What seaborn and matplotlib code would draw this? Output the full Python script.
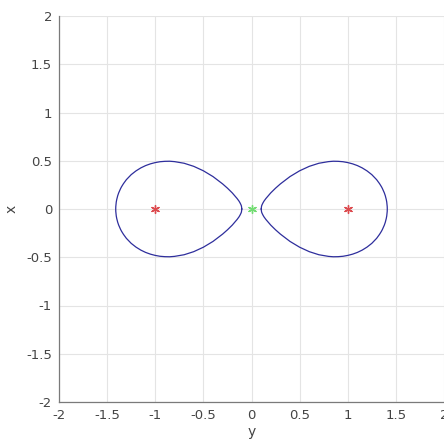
import matplotlib
matplotlib.use("Agg")
import matplotlib.pyplot as plt
import seaborn as sns
import numpy as np
import pandas as pd

# Upper half of the right-hand loop (horizontal "y", vertical "x")
loop_h = [0.100, 0.105, 0.110, 0.120, 0.130, 0.150, 0.200, 0.250, 0.300, 0.400,
          0.500, 0.600, 0.700, 0.800, 0.850, 0.900, 0.950, 1.000, 1.050, 1.100,
          1.150, 1.200, 1.250, 1.300, 1.330, 1.350, 1.360, 1.380, 1.390, 1.400,
          1.405, 1.410, 1.4107]
loop_v = [0.000, 0.032, 0.045, 0.065, 0.082, 0.109, 0.167, 0.216, 0.260, 0.336,
          0.396, 0.442, 0.474, 0.491, 0.495, 0.494, 0.490, 0.481, 0.468, 0.450,
          0.426, 0.395, 0.356, 0.304, 0.263, 0.231, 0.212, 0.167, 0.138, 0.099,
          0.073, 0.025, 0.000]

foci_h = [-1.0, 1.0]
foci_v = [0.0, 0.0]
center_h = [0.0]
center_v = [0.0]

xticks = [-2, -1.5, -1, -0.5, 0, 0.5, 1, 1.5, 2]
xticklabels = ["-2", "-1.5", "-1", "-0.5", "0", "0.5", "1", "1.5", "2"]
yticks = [-2, -1.5, -1, -0.5, 0, 0.5, 1, 1.5, 2]
yticklabels = ["-2", "-1.5", "-1", "-0.5", "0", "0.5", "1", "1.5", "2"]

sns.set_style("white")
plt.rcParams['font.family'] = ['DejaVu Sans']

fig = plt.figure(figsize=(4.44, 4.42), dpi=100)
ax = fig.add_axes([59/444, 40/442, 385/444, 386/442])

h = np.array(loop_h)
v = np.array(loop_v)
# close the right loop: upper half then lower half (mirror)
right_h = np.concatenate([h, h[::-1]])
right_v = np.concatenate([v, -v[::-1]])
left_h = -right_h
left_v = right_v

line_color = "#2e2e9c"
for lh, lv in [(right_h, right_v), (left_h, left_v)]:
    df = pd.DataFrame({"h": lh, "v": lv})
    sns.lineplot(data=df, x="h", y="v", sort=False, estimator=None,
                 color=line_color, linewidth=0.9, ax=ax)

ast = (6, 2, 0)
sns.scatterplot(x=foci_h, y=foci_v, marker=ast, s=32, color="#dc4a4e",
                linewidth=1.0, ax=ax, zorder=5)
sns.scatterplot(x=center_h, y=center_v, marker=ast, s=32, color="#72dc72",
                linewidth=1.0, ax=ax, zorder=5)

ax.set_xlim(-2, 2)
ax.set_ylim(-2, 2)
ax.set_xticks(xticks)
ax.set_xticklabels(xticklabels)
ax.set_yticks(yticks)
ax.set_yticklabels(yticklabels)
ax.grid(True, color="#e4e4e4", linewidth=0.8)
ax.set_axisbelow(True)

for s in ["top", "right"]:
    ax.spines[s].set_visible(False)
for s in ["left", "bottom"]:
    ax.spines[s].set_color("#7a7a7a")
    ax.spines[s].set_linewidth(0.9)

ax.tick_params(direction="in", length=3, width=0.8, color="#7a7a7a",
               labelsize=9.5, labelcolor="#444444", pad=5)
ax.set_xlabel("y", fontsize=10, color="#444444", labelpad=2)
ax.set_ylabel("x", fontsize=10, color="#444444")
ax.yaxis.set_label_coords(-0.105, 0.5)

fig.savefig("out.png", dpi=100)
